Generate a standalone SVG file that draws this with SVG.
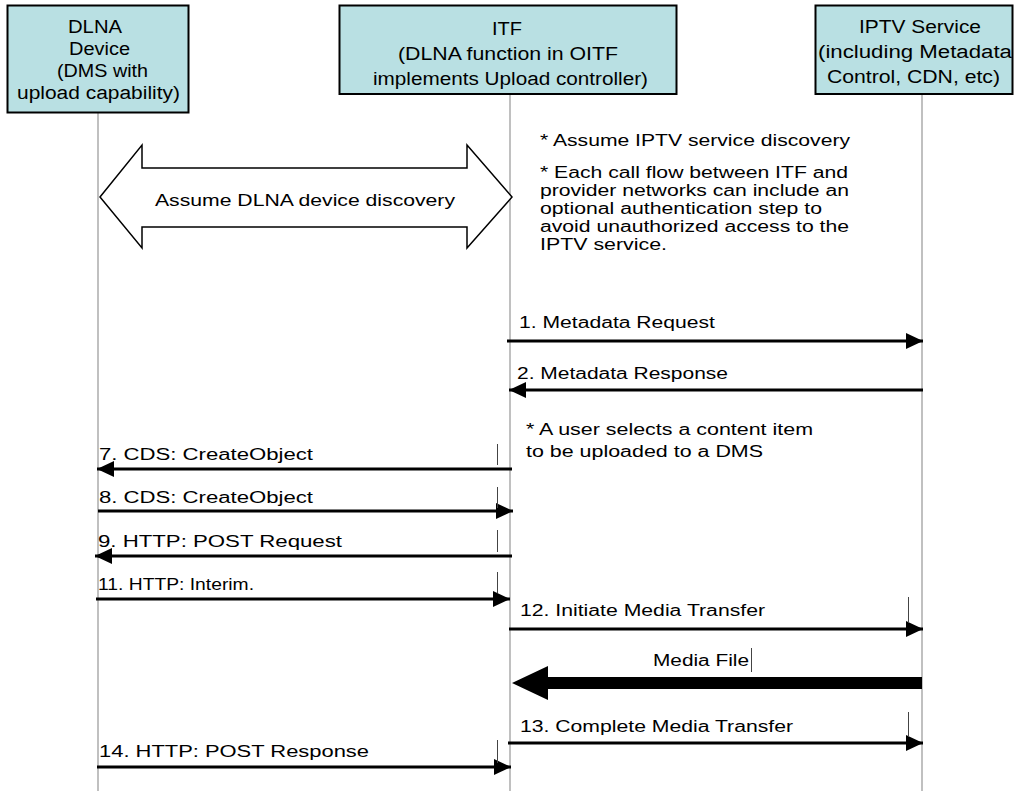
<svg xmlns="http://www.w3.org/2000/svg" width="1015" height="791" viewBox="0 0 1015 791">
<style>
  text { font-family: "Liberation Sans", Arial, sans-serif; fill: #000; }
  .box { fill: #b9e0e3; stroke: #000; stroke-width: 2; }
  .hdr { font-size: 18px; }
  .lbl { font-size: 16px; }
  .note { font-size: 16px; }
  .life { stroke: #c0c0c0; stroke-width: 2; fill: none; }
  .msg { stroke: #000; stroke-width: 3; fill: none; }
  .tick { stroke: #444; stroke-width: 1; fill: none; }
</style>
<defs>
  <marker id="ah" viewBox="0 0 17 16" refX="17" refY="8" markerWidth="17" markerHeight="16" markerUnits="userSpaceOnUse" orient="auto">
    <path d="M0,0 L17,8 L0,16 Z" fill="#000"/>
  </marker>
</defs>
<rect width="1015" height="791" fill="#fff"/>

<g id="lifelines">
  <line class="life" x1="98" y1="113" x2="98" y2="791"/>
  <line class="life" x1="510" y1="94" x2="510" y2="791"/>
  <line class="life" x1="922" y1="94" x2="922" y2="791"/>
</g>

<g id="dlna-device">
  <rect class="box" x="7.5" y="5.5" width="181" height="107"/>
  <text class="hdr" x="68" y="33" textLength="54" lengthAdjust="spacingAndGlyphs">DLNA</text>
  <text class="hdr" x="69" y="55" textLength="61" lengthAdjust="spacingAndGlyphs">Device</text>
  <text class="hdr" x="57" y="77" textLength="91" lengthAdjust="spacingAndGlyphs">(DMS with</text>
  <text class="hdr" x="17" y="99" textLength="163" lengthAdjust="spacingAndGlyphs">upload capability)</text>
</g>

<g id="itf">
  <rect class="box" x="339.5" y="5.5" width="337" height="88.5"/>
  <text class="hdr" x="492" y="35" textLength="30" lengthAdjust="spacingAndGlyphs">ITF</text>
  <text class="hdr" x="398" y="60" textLength="220" lengthAdjust="spacingAndGlyphs">(DLNA function in OITF</text>
  <text class="hdr" x="373" y="85" textLength="275" lengthAdjust="spacingAndGlyphs">implements Upload controller)</text>
</g>

<g id="iptv-service">
  <rect class="box" x="815.5" y="5.5" width="197" height="88.5"/>
  <text class="hdr" x="859" y="33" textLength="122" lengthAdjust="spacingAndGlyphs">IPTV Service</text>
  <text class="hdr" x="818" y="58" textLength="194" lengthAdjust="spacingAndGlyphs">(including Metadata</text>
  <text class="hdr" x="827" y="83" textLength="173" lengthAdjust="spacingAndGlyphs">Control, CDN, etc)</text>
</g>

<g id="dlna-discovery">
  <polygon points="100,197 142,145 142,168 467,168 467,145 512,197 467,248 467,227 142,227 142,248" fill="#fff" stroke="#000" stroke-width="1.5" stroke-linejoin="miter"/>
  <text x="155" y="206" font-size="17" textLength="300" lengthAdjust="spacingAndGlyphs">Assume DLNA device discovery</text>
</g>

<g id="notes">
  <text class="note" x="540" y="146" textLength="310" lengthAdjust="spacingAndGlyphs">* Assume IPTV service discovery</text>
  <text class="note" x="540" y="178" textLength="308" lengthAdjust="spacingAndGlyphs">* Each call flow between ITF and</text>
  <text class="note" x="540" y="196" textLength="309" lengthAdjust="spacingAndGlyphs">provider networks can include an</text>
  <text class="note" x="540" y="214" textLength="282" lengthAdjust="spacingAndGlyphs">optional authentication step to</text>
  <text class="note" x="540" y="232" textLength="309" lengthAdjust="spacingAndGlyphs">avoid unauthorized access to the</text>
  <text class="note" x="540" y="250" textLength="127" lengthAdjust="spacingAndGlyphs">IPTV service.</text>
  <text class="note" x="526" y="435" textLength="287" lengthAdjust="spacingAndGlyphs">* A user selects a content item</text>
  <text class="note" x="526" y="457" textLength="237" lengthAdjust="spacingAndGlyphs">to be uploaded to a DMS</text>
</g>

<g id="connectors">
  <line class="msg" x1="507" y1="341" x2="923" y2="341" marker-end="url(#ah)"/>
  <text class="lbl" x="519" y="328" textLength="196" lengthAdjust="spacingAndGlyphs">1. Metadata Request</text>

  <line class="msg" x1="923" y1="390" x2="509" y2="390" marker-end="url(#ah)"/>
  <text class="lbl" x="517" y="379" textLength="211" lengthAdjust="spacingAndGlyphs">2. Metadata Response</text>

  <line class="msg" x1="512" y1="469" x2="97" y2="469" marker-end="url(#ah)"/>
  <text class="lbl" x="99" y="460" textLength="214" lengthAdjust="spacingAndGlyphs">7. CDS: CreateObject</text>

  <line class="msg" x1="98" y1="511" x2="513" y2="511" marker-end="url(#ah)"/>
  <text class="lbl" x="99" y="503" textLength="214" lengthAdjust="spacingAndGlyphs">8. CDS: CreateObject</text>

  <line class="msg" x1="512" y1="556" x2="95" y2="556" marker-end="url(#ah)"/>
  <text class="lbl" x="98" y="547" textLength="244" lengthAdjust="spacingAndGlyphs">9. HTTP: POST Request</text>

  <line class="msg" x1="96" y1="599" x2="510" y2="599" marker-end="url(#ah)"/>
  <text class="lbl" x="98" y="590" textLength="156" lengthAdjust="spacingAndGlyphs">11. HTTP: Interim.</text>

  <line class="msg" x1="509" y1="629" x2="923" y2="629" marker-end="url(#ah)"/>
  <text class="lbl" x="520" y="616" textLength="245" lengthAdjust="spacingAndGlyphs">12. Initiate Media Transfer</text>

  <polygon points="512,683 548,666 548,677 922,677 922,689 548,689 548,700" fill="#000"/>
  <text class="lbl" x="653" y="666" textLength="96" lengthAdjust="spacingAndGlyphs">Media File</text>

  <line class="msg" x1="508" y1="743" x2="923" y2="743" marker-end="url(#ah)"/>
  <text class="lbl" x="520" y="732" textLength="273" lengthAdjust="spacingAndGlyphs">13. Complete Media Transfer</text>

  <line class="msg" x1="97" y1="767" x2="511" y2="767" marker-end="url(#ah)"/>
  <text class="lbl" x="99" y="757" textLength="270" lengthAdjust="spacingAndGlyphs">14. HTTP: POST Response</text>
</g>

<g id="marks">
  <line class="tick" x1="497.5" y1="444" x2="497.5" y2="465"/>
  <line class="tick" x1="497.5" y1="487" x2="497.5" y2="508"/>
  <line class="tick" x1="497.5" y1="530" x2="497.5" y2="552"/>
  <line class="tick" x1="497.5" y1="572" x2="497.5" y2="593"/>
  <line class="tick" x1="497.5" y1="740" x2="497.5" y2="763"/>
  <line class="tick" x1="908.5" y1="597" x2="908.5" y2="623"/>
  <line class="tick" x1="908.5" y1="712" x2="908.5" y2="737"/>
  <line class="tick" x1="751.5" y1="648" x2="751.5" y2="672"/>
</g>
</svg>
